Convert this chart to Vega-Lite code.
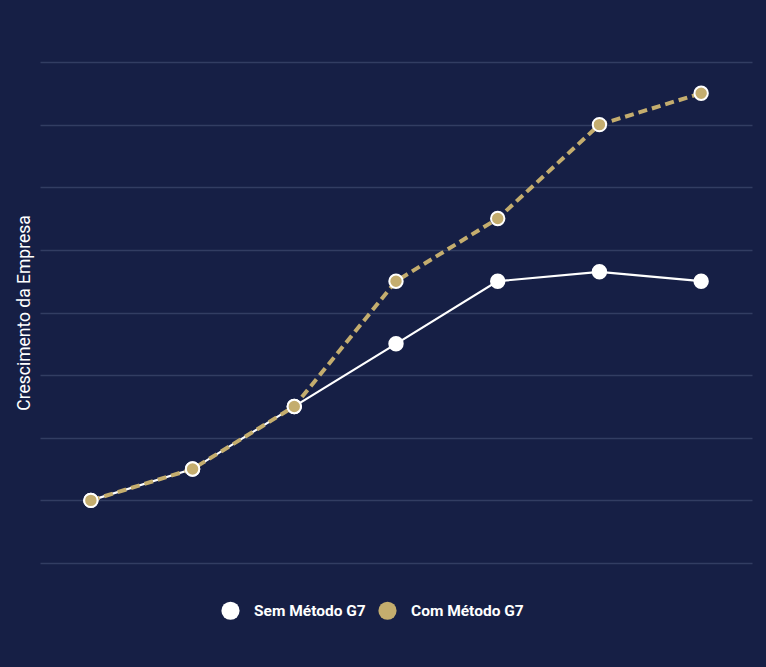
{
  "$schema": "https://vega.github.io/schema/vega-lite/v6.json",
  "autosize": {"type": "none"},
  "width": 712,
  "height": 501,
  "padding": {"left": 40, "top": 62, "right": 14, "bottom": 104},
  "background": "#161f45",
  "config": {
    "view": {"stroke": null},
    "font": "Roboto"
  },
  "data": {
    "values": [
      {"p": 1, "serie": "Sem Método G7", "v": 1},
      {"p": 2, "serie": "Sem Método G7", "v": 1.5},
      {"p": 3, "serie": "Sem Método G7", "v": 2.5},
      {"p": 4, "serie": "Sem Método G7", "v": 3.5},
      {"p": 5, "serie": "Sem Método G7", "v": 4.5},
      {"p": 6, "serie": "Sem Método G7", "v": 4.65},
      {"p": 7, "serie": "Sem Método G7", "v": 4.5},
      {"p": 1, "serie": "Com Método G7", "v": 1},
      {"p": 2, "serie": "Com Método G7", "v": 1.5},
      {"p": 3, "serie": "Com Método G7", "v": 2.5},
      {"p": 4, "serie": "Com Método G7", "v": 4.5},
      {"p": 5, "serie": "Com Método G7", "v": 5.5},
      {"p": 6, "serie": "Com Método G7", "v": 7},
      {"p": 7, "serie": "Com Método G7", "v": 7.5}
    ]
  },
  "encoding": {
    "x": {"field": "p", "type": "ordinal", "scale": {"type": "point", "padding": 0.5}, "axis": null},
    "y": {
      "field": "v", "type": "quantitative",
      "scale": {"domain": [0, 8], "nice": false, "zero": true},
      "axis": {
        "title": "Crescimento da Empresa",
        "titleColor": "#ffffff",
        "titleFont": "Roboto",
        "titleFontSize": 17.5,
        "titleFontWeight": "normal",
        "titlePadding": 7,
        "values": [0, 1, 2, 3, 4, 5, 6, 7, 8],
        "labels": false,
        "ticks": false,
        "domain": false,
        "grid": true,
        "gridColor": "#323d62",
        "gridWidth": 1.3
      }
    }
  },
  "layer": [
    {
      "transform": [{"filter": "datum.serie === 'Sem Método G7'"}],
      "mark": {"type": "line", "color": "#ffffff", "strokeWidth": 2.2}
    },
    {
      "transform": [{"filter": "datum.serie === 'Com Método G7'"}],
      "mark": {"type": "line", "color": "#c4ad6e", "strokeWidth": 4, "strokeDash": [9, 5]}
    },
    {
      "mark": {"type": "point", "filled": true, "shape": "circle", "size": 180, "stroke": "#ffffff", "strokeWidth": 2, "opacity": 1},
      "encoding": {
        "color": {
          "field": "serie", "type": "nominal",
          "scale": {"domain": ["Sem Método G7", "Com Método G7"], "range": ["#ffffff", "#c4ad6e"]},
          "legend": {
            "title": null,
            "orient": "none",
            "direction": "horizontal",
            "legendX": 181,
            "legendY": 539,
            "symbolType": "circle",
            "symbolSize": 330,
            "symbolStrokeWidth": 0,
            "symbolOpacity": 1,
            "labelColor": "#ffffff",
            "labelFont": "Roboto",
            "labelFontSize": 15.5,
            "labelFontWeight": "bold",
            "labelOffset": 14,
            "columnPadding": 12
          }
        },
        "stroke": {"value": "#ffffff"},
        "order": {"field": "serie", "sort": "descending"}
      }
    }
  ]
}
